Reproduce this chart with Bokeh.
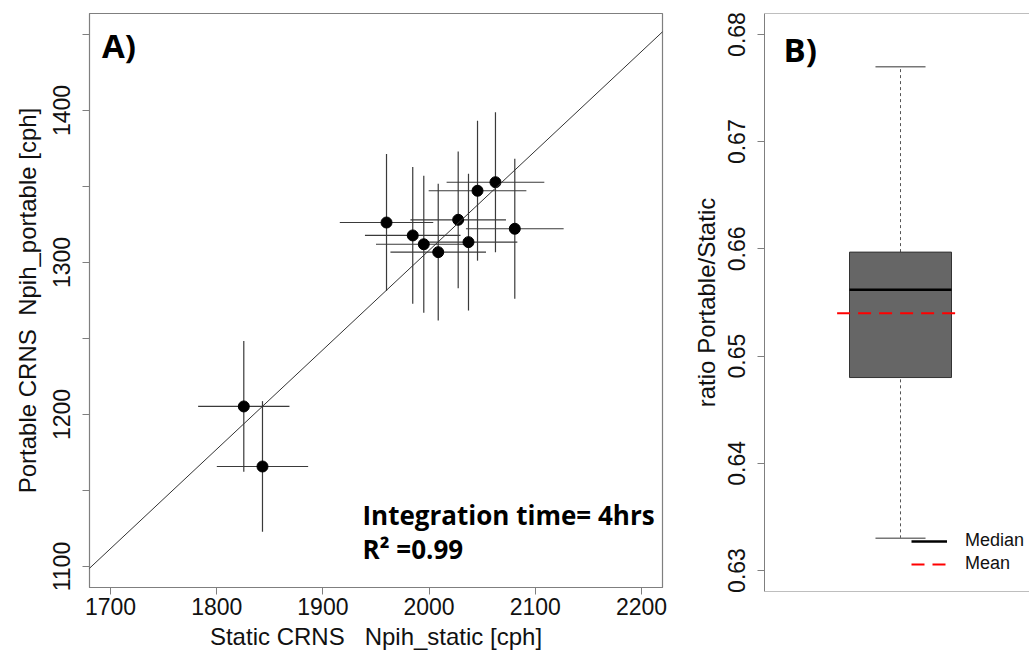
from bokeh.plotting import figure
from bokeh.models import (Range1d, FixedTicker, Slope, Span, Label, Legend,
                          LegendItem, ColumnDataSource)
from bokeh.layouts import row
from bokeh.embed import file_html
from bokeh.resources import INLINE

# ---------------- data: panel A ----------------
static_cph = [1959.9, 1984.6, 1995.0, 2008.6, 2027.4, 2037.1, 2045.6, 2062.5, 2080.7, 1825.5, 1843.1]
portable_cph = [1326.3, 1317.8, 1312.0, 1306.8, 1328.1, 1313.4, 1347.2, 1352.8, 1322.2, 1205.3, 1165.8]
static_err = [44, 45, 45, 45, 45, 46, 46, 46, 46, 43, 43]
portable_err = [45, 45, 45, 45, 45, 45, 46, 46, 46, 43, 43]
mean_ratio_slope = 0.654
x_ticks = [1700, 1800, 1900, 2000, 2100, 2200]
y_ticks = [1100, 1150, 1200, 1250, 1300, 1350, 1400, 1450]
y_tick_labels = ["1100", "", "1200", "", "1300", "", "1400", ""]

# ---------------- data: panel B ----------------
box_position = [1.0]
ratio_low = [0.633]
ratio_q1 = [0.648]
ratio_median = [0.6562]
ratio_q3 = [0.6597]
ratio_high = [0.677]
ratio_mean = [0.654]
ratio_ticks = [0.63, 0.64, 0.65, 0.66, 0.67, 0.68]

FONT = "Liberation Sans"
BOLD = "Open Sans"
FRAME = "#7f7f7f"

# ---------------- panel A ----------------
pA = figure(frame_width=573, frame_height=574,
            min_border_left=89, min_border_right=26,
            min_border_top=13, min_border_bottom=68,
            x_range=Range1d(1680.2, 2219.8), y_range=Range1d(1086.2, 1463.8),
            output_backend="svg", toolbar_location=None)
pA.xgrid.visible = False
pA.ygrid.visible = False
pA.outline_line_color = FRAME
pA.outline_line_width = 1.2

for ax in (pA.xaxis[0], pA.yaxis[0]):
    ax.axis_line_color = FRAME
    ax.major_tick_line_color = FRAME
    ax.major_tick_out = 7
    ax.major_tick_in = 0
    ax.minor_tick_line_color = None
    ax.major_label_text_font = FONT
    ax.major_label_text_font_size = "23px"
    ax.major_label_text_color = "#111111"
    ax.axis_label_text_font = FONT
    ax.axis_label_text_font_size = "24px"
    ax.axis_label_text_font_style = "normal"
    ax.axis_label_text_color = "#111111"

pA.xaxis.ticker = FixedTicker(ticks=x_ticks)
pA.yaxis.ticker = FixedTicker(ticks=y_ticks)
pA.yaxis.major_label_overrides = {t: l for t, l in zip(y_ticks, y_tick_labels)}
pA.yaxis.major_label_orientation = "vertical"
pA.xaxis.axis_label = "Static CRNS\u00a0\u00a0 Npih_static [cph]"
pA.yaxis.axis_label = "Portable CRNS\u00a0 Npih_portable [cph]"
pA.xaxis.major_label_standoff = 3
pA.xaxis.axis_label_standoff = 5
pA.yaxis.major_label_standoff = 12
pA.yaxis.axis_label_standoff = 10

src = ColumnDataSource(dict(
    x=static_cph, y=portable_cph,
    xl=[x - e for x, e in zip(static_cph, static_err)],
    xh=[x + e for x, e in zip(static_cph, static_err)],
    yl=[y - e for y, e in zip(portable_cph, portable_err)],
    yh=[y + e for y, e in zip(portable_cph, portable_err)],
))

pA.add_layout(Slope(gradient=mean_ratio_slope, y_intercept=0,
                    line_color="#333333", line_width=1))
pA.segment(x0="xl", y0="y", x1="xh", y1="y", source=src,
           line_color="#3a3a3a", line_width=1.2)
pA.segment(x0="x", y0="yl", x1="x", y1="yh", source=src,
           line_color="#3a3a3a", line_width=1.2)
pA.scatter(x="x", y="y", source=src, size=11, fill_color="black",
           line_color="black")

pA.add_layout(Label(x=1692, y=1442.8, text="A)", text_font=BOLD,
                    text_font_style="bold", text_font_size="33px",
                    text_baseline="alphabetic", text_color="black"))
pA.add_layout(Label(x=1937.3, y=1134.2, text="Integration time= 4hrs",
                    text_font=BOLD, text_font_style="bold",
                    text_font_size="26px", text_baseline="alphabetic",
                    text_color="black"))
pA.add_layout(Label(x=1937.3, y=1111.8, text="R\u00b2 =0.99",
                    text_font=BOLD, text_font_style="bold",
                    text_font_size="26px", text_baseline="alphabetic",
                    text_color="black"))

# ---------------- panel B ----------------
yB0, yB1 = 0.62804, 0.68196
pB = figure(frame_width=265, frame_height=578,
            min_border_left=76, min_border_right=0,
            min_border_top=11, min_border_bottom=66,
            x_range=Range1d(0.5, 0.5 + 265 / 272), y_range=Range1d(yB0, yB1),
            output_backend="svg", toolbar_location=None)
pB.xgrid.visible = False
pB.ygrid.visible = False
pB.xaxis.visible = False
pB.outline_line_color = None
ay = pB.yaxis[0]
ay.ticker = FixedTicker(ticks=ratio_ticks)
ay.axis_line_color = FRAME
ay.major_tick_line_color = FRAME
ay.major_tick_out = 7
ay.major_tick_in = 0
ay.minor_tick_line_color = None
ay.major_label_text_font = FONT
ay.major_label_text_font_size = "23px"
ay.major_label_text_color = "#111111"
ay.major_label_orientation = "vertical"
ay.major_label_standoff = 12
ay.axis_label = "ratio Portable/Static"
ay.axis_label_text_font = FONT
ay.axis_label_text_font_size = "24px"
ay.axis_label_text_font_style = "normal"
ay.axis_label_text_color = "#111111"
ay.axis_label_standoff = 6

pB.add_layout(Span(location=yB1, dimension="width", line_color=FRAME, line_width=1.2))
pB.add_layout(Span(location=yB0, dimension="width", line_color=FRAME, line_width=1.2))

box_half = 0.1875
cap_half = 0.092
bsrc = ColumnDataSource(dict(
    x=box_position, low=ratio_low, q1=ratio_q1, med=ratio_median,
    q3=ratio_q3, high=ratio_high, mean=ratio_mean,
    bl=[p - box_half for p in box_position], br=[p + box_half for p in box_position],
    cl=[p - cap_half for p in box_position], cr=[p + cap_half for p in box_position],
    ml=[p - 0.233 for p in box_position], mr=[p + 0.207 for p in box_position],
))
# whiskers (dotted)
pB.segment(x0="x", y0="q3", x1="x", y1="high", source=bsrc,
           line_color="#555555", line_width=1, line_dash="3 3")
pB.segment(x0="x", y0="low", x1="x", y1="q1", source=bsrc,
           line_color="#555555", line_width=1, line_dash="3 3")
# caps
pB.segment(x0="cl", y0="high", x1="cr", y1="high", source=bsrc,
           line_color="#777777", line_width=1.5)
pB.segment(x0="cl", y0="low", x1="cr", y1="low", source=bsrc,
           line_color="#777777", line_width=1.5)
# box
pB.quad(left="bl", right="br", bottom="q1", top="q3", source=bsrc,
        fill_color="#666666", line_color="#333333", line_width=1)
med_r = pB.segment(x0="bl", y0="med", x1="br", y1="med", source=bsrc,
                   line_color="black", line_width=2.5)
mean_r = pB.segment(x0="ml", y0="mean", x1="mr", y1="mean", source=bsrc,
                    line_color="red", line_width=2, line_dash="13 8")

legend = Legend(items=[LegendItem(label="Median", renderers=[med_r]),
                       LegendItem(label="Mean", renderers=[mean_r])],
                location=(147, 17), glyph_width=36, glyph_height=20,
                label_height=20, spacing=2, padding=0, margin=0,
                label_standoff=18, border_line_color=None,
                background_fill_alpha=0, label_text_font=FONT,
                label_text_font_size="18px", label_text_color="#111111")
pB.add_layout(legend)

pB.add_layout(Label(x=0.57, y=0.6786, text="B)", text_font=BOLD,
                    text_font_style="bold", text_font_size="33px",
                    text_baseline="alphabetic", text_color="black"))

layout = row(pA, pB)
open("out.html", "w").write(file_html(layout, INLINE))
